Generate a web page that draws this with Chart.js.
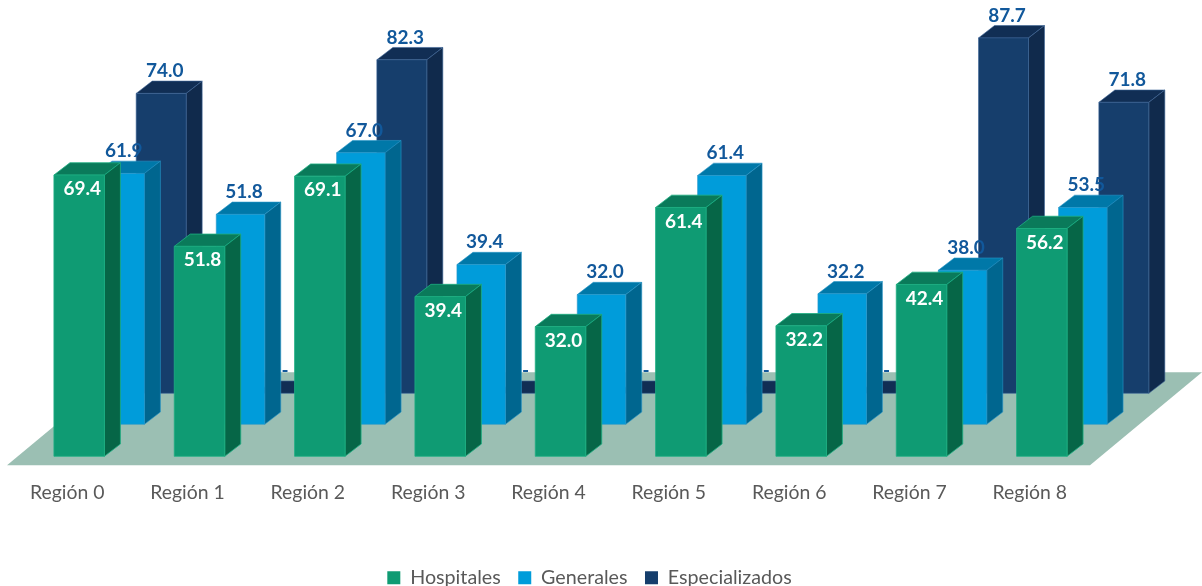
<!DOCTYPE html>
<html>
<head>
<meta charset="utf-8">
<style>html,body{margin:0;padding:0;background:#fff}canvas{display:block}</style>
<script src="https://cdn.jsdelivr.net/npm/chart.js@4"></script>
</head>
<body>
<canvas id="c" width="1202" height="586"></canvas>
<script>
const categories = ['Región 0','Región 1','Región 2','Región 3','Región 4','Región 5','Región 6','Región 7','Región 8'];
const hospitales = [69.4,51.8,69.1,39.4,32.0,61.4,32.2,42.4,56.2];
const generales = [61.9,51.8,67.0,39.4,32.0,61.4,32.2,38.0,53.5];
const especializados = [74.0,0,82.3,0,0,0,0,87.7,71.8];

const depthX = 16, depthY = 12.3, labelNudge = 3.5;
const looks = [
  {dx:12, dy:-9,  front:'#0F9B73', side:'#066647', top:'#0A7A5A', edge:'rgba(30,175,130,.8)', inside:true},
  {dx:53, dy:-41, front:'#009CDA', side:'#00668F', top:'#0078A8', edge:'rgba(40,150,200,.6)', inside:false},
  {dx:94, dy:-72, front:'#163E6C', side:'#102A4C', top:'#112E54', edge:'rgba(60,100,150,.6)', inside:false}
];

function face(ctx, pts, fill, edge){
  ctx.beginPath();
  pts.forEach((p,i)=> i ? ctx.lineTo(p[0],p[1]) : ctx.moveTo(p[0],p[1]));
  ctx.closePath();
  ctx.fillStyle = fill; ctx.fill();
  ctx.strokeStyle = edge; ctx.lineWidth = 1; ctx.stroke();
}

const bars3d = {
  id:'bars3d',
  afterLayout(chart){
    const shift = 41;
    chart.legend.left += shift; chart.legend.right += shift;
    chart.legend.top = 550.5;
  },
  beforeDatasetsDraw(chart){
    const {ctx, chartArea:a} = chart;
    ctx.save();
    ctx.beginPath();
    ctx.moveTo(a.left, a.bottom);
    ctx.lineTo(a.right, a.bottom);
    ctx.lineTo(a.right+112, a.bottom-93);
    ctx.lineTo(a.left+112, a.bottom-93);
    ctx.closePath();
    ctx.fillStyle = '#9BBFB3'; ctx.fill();
    ctx.restore();
  },
  beforeDatasetDraw(chart, args){
    const {ctx} = chart, look = looks[args.index];
    ctx.save();
    args.meta.data.forEach(el=>{
      const p = el.getProps(['x','y','base','width'], true);
      const l = p.x - p.width/2 + look.dx, r = l + p.width;
      const t = p.y + look.dy, b = p.base + look.dy;
      const ex = look.edge;
      face(ctx, [[l,t],[r,t],[r+depthX,t-depthY],[l+depthX,t-depthY]], look.top, ex);
      if (b - t > 0.5) {
        face(ctx, [[r,t],[r+depthX,t-depthY],[r+depthX,b-depthY],[r,b]], look.side, ex);
        face(ctx, [[l,t],[r,t],[r,b],[l,b]], look.front, ex);
      }
    });
    ctx.restore();
    return false;
  },
  afterDatasetsDraw(chart){
    const {ctx} = chart;
    ctx.save();
    ctx.font = 'bold 19px Lato';
    ctx.textAlign = 'center';
    ctx.textBaseline = 'middle';
    [2,1,0].forEach(i=>{
      const look = looks[i], ds = chart.data.datasets[i];
      chart.getDatasetMeta(i).data.forEach((el,k)=>{
        const v = ds.data[k];
        const text = v === 0 ? '-' : v.toFixed(1);
        const x = el.x + look.dx + labelNudge - (look.inside ? 0.5 : 0);
        const t = el.y + look.dy;
        const y = look.inside ? t + 14 : t - depthY - 10;
        ctx.fillStyle = look.inside ? '#FFFFFF' : '#11589B';
        ctx.fillText(text, x, y);
      });
    });
    ctx.restore();
  }
};

new Chart(document.getElementById('c'), {
  type:'bar',
  data:{
    labels:categories,
    datasets:[
      {label:'Hospitales', data:hospitales, backgroundColor:'#0F9B73', barPercentage:50.5/120.4},
      {label:'Generales', data:generales, backgroundColor:'#009CDA', barPercentage:48.5/120.4},
      {label:'Especializados', data:especializados, backgroundColor:'#163E6C', barPercentage:50/120.4}
    ]
  },
  options:{
    responsive:false,
    animation:false,
    layout:{padding:{left:7,right:112,top:19.5,bottom:0}},
    datasets:{bar:{grouped:false,categoryPercentage:1}},
    scales:{
      x:{
        grid:{display:false},
        border:{display:false},
        ticks:{color:'#595959',font:{family:'Lato',size:19.4},padding:8,maxRotation:0,autoSkip:false},
        afterFit(s){ s.height = 73.5; }
      },
      y:{display:false,min:0,max:110}
    },
    plugins:{
      tooltip:{enabled:false},
      legend:{
        position:'bottom',
        labels:{color:'#595959',font:{family:'Lato',size:19.7},boxWidth:13,boxHeight:13,padding:17.5}
      }
    }
  },
  plugins:[bars3d]
});
</script>
</body>
</html>
